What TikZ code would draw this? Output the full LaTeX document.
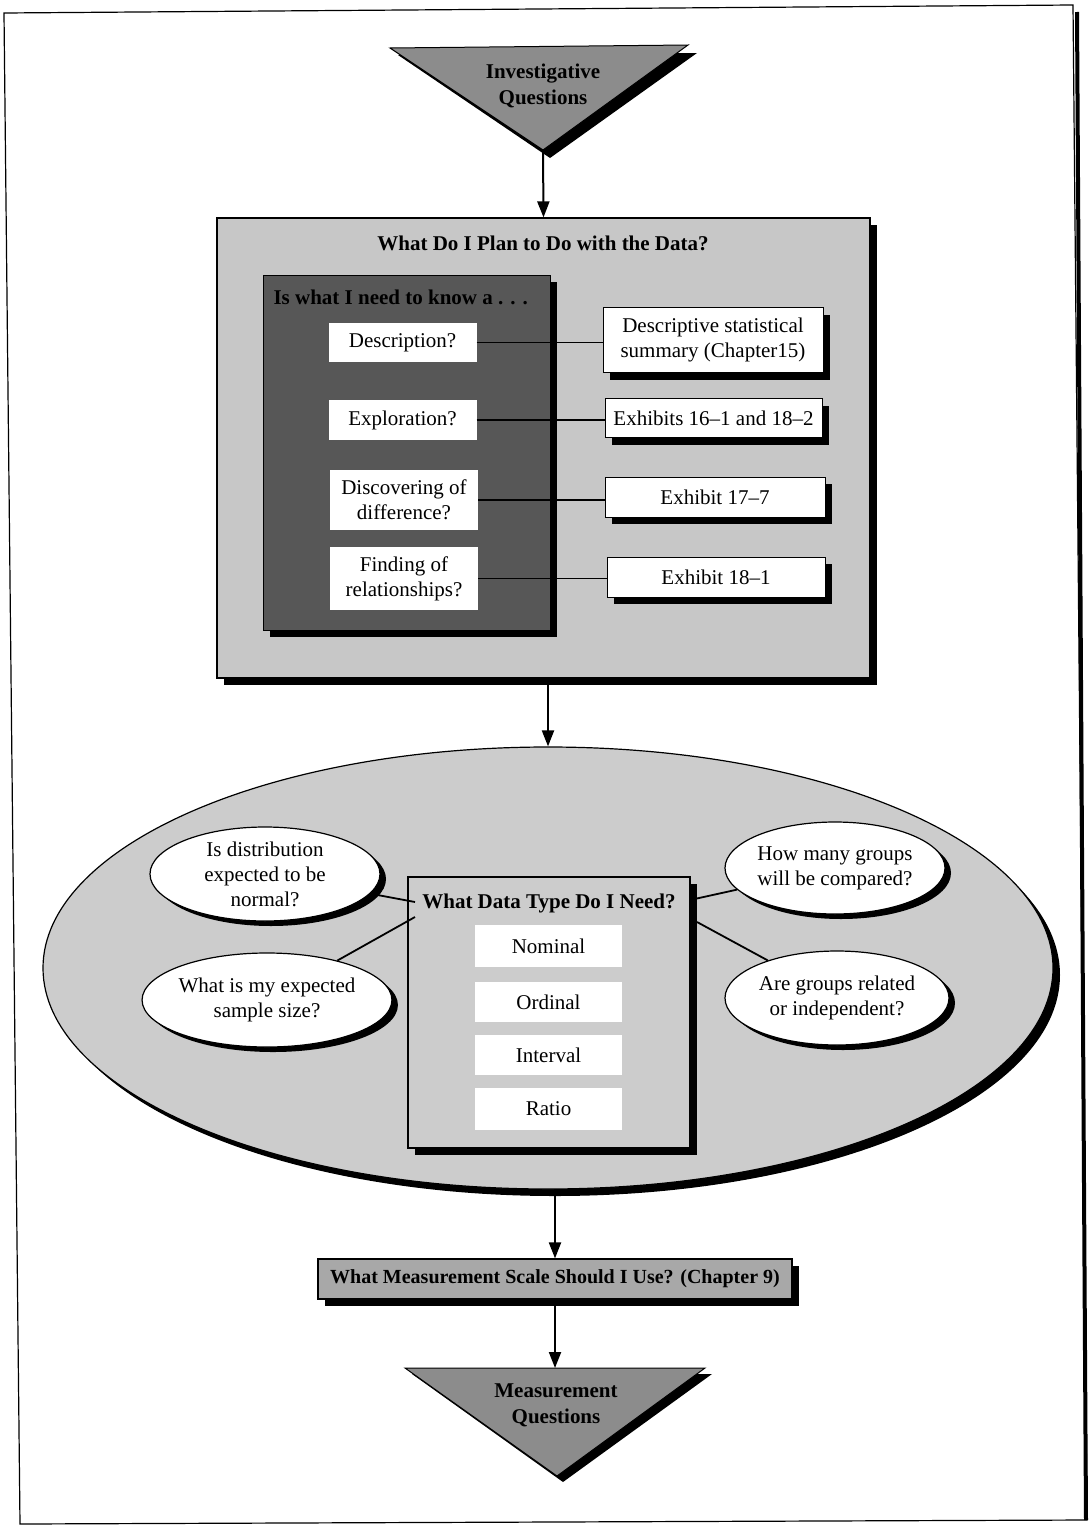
\documentclass[tikz,border=0pt]{standalone}
\usepackage{fontspec}
\setmainfont{Liberation Serif}
\usetikzlibrary{shapes.geometric,shadows,arrows.meta}
\definecolor{plangray}{gray}{0.78}
\definecolor{darkgray}{gray}{0.34}
\definecolor{trigray}{gray}{0.55}
\definecolor{ellgray}{gray}{0.80}
\definecolor{bargray}{gray}{0.66}
\begin{document}
\begin{tikzpicture}[x=1pt,y=-1pt,
  txt/.style={font=\fontsize{21}{25}\selectfont, align=center},
  btxt/.style={font=\fontsize{21}{26}\selectfont\bfseries, align=center},
  shad/.style={drop shadow={shadow xshift=7pt,shadow yshift=-7pt,fill=black,opacity=1}},
  eshad/.style={drop shadow={shadow xshift=6pt,shadow yshift=-5pt,fill=black,opacity=1}},
  whitebox/.style={fill=white, inner sep=0pt, txt, minimum width=148pt},
  exbox/.style={draw=black, line width=1pt, fill=white, inner sep=0pt, txt, shad},
  qell/.style={ellipse, draw=black, line width=1.2pt, fill=white, inner sep=0pt, txt, eshad},
  link/.style={line width=1.8pt},
  arr/.style={line width=2pt, -{Triangle[length=16pt,width=12pt]}},
]
\useasboundingbox (0,0) rectangle (1092,1526);
% page frame
\draw[line width=1.2pt] (4,13) -- (1073,5) -- (1087,1520) -- (20,1524) -- cycle;
\draw[line width=4pt] (1077,12) -- (1086,1520);

% top triangle
\fill[black] (398,55) -- (697,53) -- (550,158) -- cycle;
\filldraw[fill=trigray, draw=black, line width=1pt] (390,48) -- (688,45) -- (543,150) -- cycle;
\coordinate (iqtip) at (543,150);
\node[btxt] (iq) at (543,86) {Investigative\\Questions};

% plan box
\node[draw=black, line width=1.2pt, fill=plangray, minimum width=653pt, minimum height=460pt, inner sep=0pt, shad] (plan) at (543.5,448) {};
\node[btxt] (plantitle) at (543,243) {What Do I Plan to Do with the Data?};
\draw[arr] (iqtip) -- (plan.north);

% dark box
\node[draw=black, line width=1pt, fill=darkgray, minimum width=287pt, minimum height=355pt, inner sep=0pt, shad] (know) at (406.5,452.5) {};
\node[btxt, anchor=west] (knowtitle) at (270,297) {Is what I need to know a . . .};

\node[whitebox, minimum height=39pt] (desc) at (402.5,342.5) {Description?};
\node[whitebox, minimum height=40pt] (expl) at (402.5,420) {Exploration?};
\node[whitebox, minimum height=60pt] (disc) at (404,500) {Discovering of\\difference?};
\node[whitebox, minimum height=63pt] (find) at (404,578.5) {Finding of\\relationships?};

\node[exbox, minimum width=220pt, minimum height=65pt] (rdesc) at (713,340) {Descriptive statistical\\summary (Chapter15)};
\node[exbox, minimum width=217pt, minimum height=39pt] (rexpl) at (713.5,418) {Exhibits 16--1 and 18--2};
\node[exbox, minimum width=220pt, minimum height=40pt] (rdisc) at (715,497) {Exhibit 17--7};
\node[exbox, minimum width=218pt, minimum height=40pt] (rfind) at (716,577) {Exhibit 18--1};

\draw[link] (desc.east) -- (desc.east -| rdesc.west);
\draw[link] (expl.east) -- (expl.east -| rexpl.west);
\draw[link] (disc.east) -- (disc.east -| rdisc.west);
\draw[link] (find.east) -- (find.east -| rfind.west);

% big ellipse
\node[ellipse, draw=black, line width=1.2pt, fill=ellgray, minimum width=1010pt, minimum height=442pt, inner sep=0pt, shad] (big) at (548,968) {};
\draw[arr] (big.north |- plan.south) -- (big.north);

% data type box
\node[draw=black, line width=1.5pt, fill=ellgray, minimum width=282pt, minimum height=271pt, inner sep=0pt, shad] (dtype) at (549,1012.5) {};
\node[btxt] (dtitle) at (549,903) {What Data Type Do I Need?};
\node[whitebox, minimum width=147pt, minimum height=42pt] (nom) at (548.5,946) {Nominal};
\node[whitebox, minimum width=147pt, minimum height=40pt] (ord) at (548.5,1002) {Ordinal};
\node[whitebox, minimum width=147pt, minimum height=40pt] (intv) at (548.5,1055) {Interval};
\node[whitebox, minimum width=147pt, minimum height=42pt] (rat) at (548.5,1109) {Ratio};

% question ellipses
\node[qell, minimum width=230pt, minimum height=94pt] (e1) at (265,874) {Is distribution\\expected to be\\normal?};
\node[qell, minimum width=230pt, minimum height=94pt] (e2) at (267,1000) {What is my expected\\sample size?};
\node[qell, minimum width=220pt, minimum height=92pt] (e3) at (835,868) {How many groups\\will be compared?};
\node[qell, minimum width=224pt, minimum height=94pt] (e4) at (837,998) {Are groups related\\or independent?};
\coordinate (c1) at (415,902);
\coordinate (c2) at (415,917);
\coordinate (c3) at (690,900);
\coordinate (c4) at (697,922);
\draw[link] (e1) -- (c1);
\draw[link] (e2) -- (c2);
\draw[link] (e3) -- (c3);
\draw[link] (e4) -- (c4);

% measurement scale bar
\node[draw=black, line width=1.2pt, fill=bargray, minimum width=474pt, minimum height=40pt, inner sep=0pt, shad,
  font=\fontsize{20}{24}\selectfont\bfseries] (bar) at (555,1279) {What Measurement Scale Should I Use? (Chapter 9)};
\draw[arr] (bar.north |- big.south) -- (bar.north);

% bottom triangle
\fill[black] (412,1374) -- (712,1374) -- (563,1482) -- cycle;
\filldraw[fill=trigray, draw=black, line width=1pt] (405,1368) -- (705,1368) -- (557,1476) -- cycle;
\coordinate (mqtop) at (555,1368);
\node[btxt] (mq) at (556,1405) {Measurement\\Questions};
\draw[arr] (bar.south) -- (mqtop);
\end{tikzpicture}
\end{document}
